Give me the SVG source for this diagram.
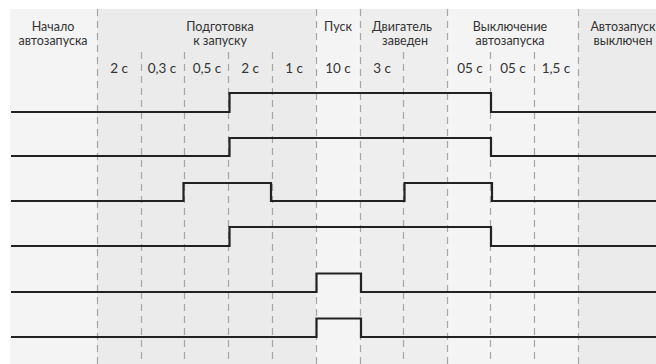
<svg xmlns="http://www.w3.org/2000/svg" width="656" height="364" viewBox="0 0 656 364">
<style>
.hd{font-family:Lato,"Liberation Sans",sans-serif;font-size:12.5px;fill:#333;text-anchor:middle}
.tm{font-family:Lato,"Liberation Sans",sans-serif;font-size:13.5px;fill:#333;text-anchor:middle}
.dash{stroke:#a6a6a6;stroke-width:1.2;stroke-dasharray:7 5;fill:none}
.sig{stroke:#222;stroke-width:2.2;fill:none;stroke-linejoin:miter}
</style>
<rect width="656" height="364" fill="#ffffff"/>
<g id="columns">
<rect x="10" y="9" width="87" height="355" fill="#f4f4f4"/>
<rect x="97" y="9" width="219" height="355" fill="#ebebeb"/>
<rect x="316" y="9" width="44" height="355" fill="#f4f4f4"/>
<rect x="360" y="9" width="87" height="355" fill="#eeeeee"/>
<rect x="447" y="9" width="131" height="355" fill="#f4f4f4"/>
<rect x="578" y="9" width="78" height="355" fill="#ebebeb"/>
</g>
<g id="grid">
<line class="dash" x1="97.5" y1="9" x2="97.5" y2="364"/>
<line class="dash" x1="316.5" y1="9" x2="316.5" y2="364"/>
<line class="dash" x1="360.5" y1="9" x2="360.5" y2="364"/>
<line class="dash" x1="447.5" y1="9" x2="447.5" y2="364"/>
<line class="dash" x1="578.5" y1="9" x2="578.5" y2="364"/>
<line class="dash" x1="141.5" y1="52" x2="141.5" y2="364"/>
<line class="dash" x1="184.5" y1="52" x2="184.5" y2="364"/>
<line class="dash" x1="228.5" y1="52" x2="228.5" y2="364"/>
<line class="dash" x1="272.5" y1="52" x2="272.5" y2="364"/>
<line class="dash" x1="403.5" y1="52" x2="403.5" y2="364"/>
<line class="dash" x1="490.5" y1="52" x2="490.5" y2="364"/>
<line class="dash" x1="534.5" y1="52" x2="534.5" y2="364"/>
</g>
<g id="headers">
<text class="hd" x="53" y="31">Начало</text>
<text class="hd" x="53" y="45">автозапуска</text>
<text class="hd" x="220" y="31">Подготовка</text>
<text class="hd" x="220" y="45">к запуску</text>
<text class="hd" x="338" y="31">Пуск</text>
<text class="hd" x="402" y="31">Двигатель</text>
<text class="hd" x="405" y="45">заведен</text>
<text class="hd" x="510" y="31">Выключение</text>
<text class="hd" x="510" y="45">автозапуска</text>
<text class="hd" x="623" y="31">Автозапуск</text>
<text class="hd" x="623" y="45">выключен</text>
</g>
<g id="times">
<text class="tm" x="119" y="73">2 с</text>
<text class="tm" x="162" y="73">0,3 с</text>
<text class="tm" x="207" y="73">0,5 с</text>
<text class="tm" x="250" y="73">2 с</text>
<text class="tm" x="294" y="73">1 с</text>
<text class="tm" x="338" y="73">10 с</text>
<text class="tm" x="382" y="73">3 с</text>
<text class="tm" x="470" y="73">05 с</text>
<text class="tm" x="513" y="73">05 с</text>
<text class="tm" x="556" y="73">1,5 с</text>
</g>
<g id="signals">
<polyline id="s1" class="sig" points="11,112 229.5,112 229.5,93 491,93 491,112 656,112"/>
<polyline id="s2" class="sig" points="11,156 229.5,156 229.5,138 491,138 491,156 656,156"/>
<polyline id="s3" class="sig" points="11,201 183.5,201 183.5,183 271,183 271,201 404.5,201 404.5,183 492,183 492,201 656,201"/>
<polyline id="s4" class="sig" points="11,246 229.5,246 229.5,227 491,227 491,246 656,246"/>
<polyline id="s5" class="sig" points="11,292 316.5,292 316.5,273.5 361,273.5 361,292 656,292"/>
<polyline id="s6" class="sig" points="11,337 316.5,337 316.5,318.5 361,318.5 361,337 656,337"/>
</g>
</svg>
